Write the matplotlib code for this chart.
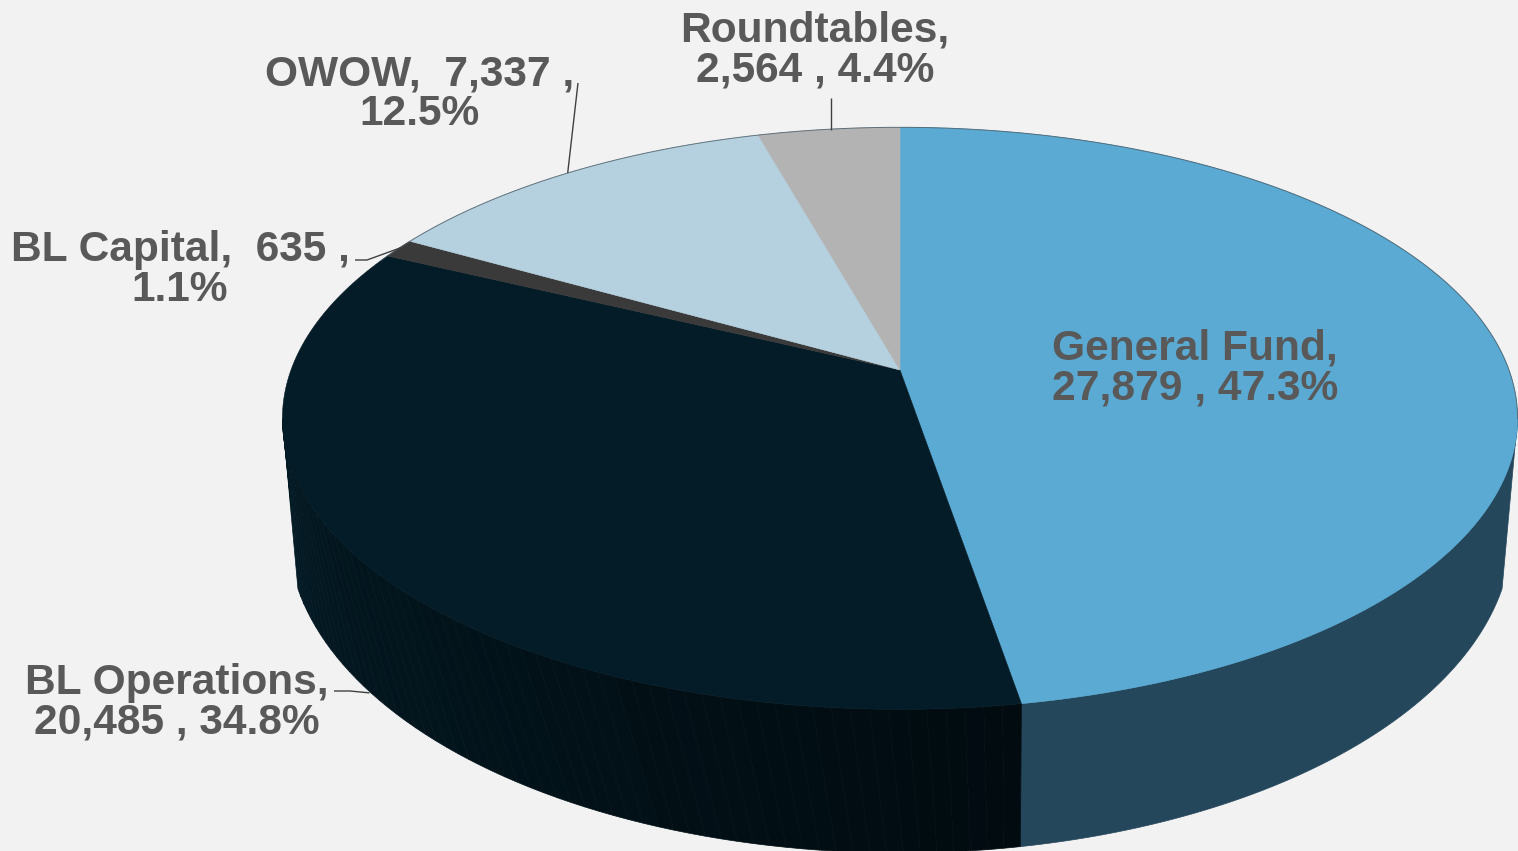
import numpy as np
import matplotlib
matplotlib.use('Agg')
import matplotlib.pyplot as plt
from matplotlib.colors import LinearSegmentedColormap
from matplotlib.patches import Polygon

names = ['General Fund', 'BL Operations', 'BL Capital', 'OWOW', 'Roundtables']
values = [27879, 20485, 635, 7337, 2564]
percents = [47.3, 34.8, 1.1, 12.5, 4.4]

top_colors = ['#5aaad3', '#041c27', '#3a3a3a', '#b5d0de', '#b3b3b3']
label_pos = [(1195, 368), (177, 703), (180, 270), (420, 94), (815, 50)]
BG = '#f2f2f2'
TEXT = '#595959'

# perspective of the pie disc, in pixels
CX, CY = 900, 370
PERSP = 0.166
TOP_R, TOP_H = 609, 283
BOT_R, BOT_H, BOT_Y = 603.5, 313, 477.6


def top_rim(t):
    u, v = np.sin(t), np.cos(t)
    d = 1 + PERSP * v
    return np.column_stack([CX + TOP_R * u / d, CY - TOP_H * v / d])


def bottom_rim(t):
    u, v = np.sin(t), np.cos(t)
    d = 1 + PERSP * v
    return np.column_stack([CX + BOT_R * u / d, BOT_Y - BOT_H * v / d])


def label_text(i):
    val = f'{values[i]:,}'
    pct = f'{percents[i]:.1f}%'
    if names[i] in ('General Fund', 'BL Operations', 'Roundtables'):
        return f'{names[i]},\n{val} , {pct}'
    return f'{names[i]},  {val} ,\n{pct}'


fig = plt.figure(figsize=(15.18, 8.51), dpi=100, facecolor=BG)
ax = fig.add_axes([0, 0, 1, 1])
ax.set_xlim(0, 1518)
ax.set_ylim(851, 0)
ax.axis('off')

# slice angles, clockwise from the top
shares = np.array(values) / sum(values)
edges = np.concatenate([[0], np.cumsum(shares)]) * 2 * np.pi
seam = edges[1]

# side wall under General Fund
rim_top = np.radians(99.6)
rim_bot = np.radians(109.6)
t1 = np.linspace(rim_top, seam, 100)
t2 = np.linspace(seam, rim_bot, 100)
ax.add_patch(Polygon(np.vstack([top_rim(t1), bottom_rim(t2)]),
                     facecolor='#25475c', edgecolor='#25475c', lw=0.5))

# side wall under BL Operations, drawn in strips so it darkens toward the seam
wall_cmap = LinearSegmentedColormap.from_list('wall', ['#010b10', '#021219', '#031a24'])
strip_edges = np.linspace(seam, np.radians(250.4), 61)
top_edges = np.linspace(seam, np.radians(260.4), 61)
for k in range(60):
    t_b = np.linspace(strip_edges[k], strip_edges[k + 1], 5)
    t_t = np.linspace(top_edges[k], top_edges[k + 1], 5)
    pts = np.vstack([top_rim(t_t), bottom_rim(t_b[::-1])])
    col = wall_cmap(k / 59)
    ax.add_patch(Polygon(pts, facecolor=col, edgecolor=col, lw=0.5))

# top face
for i in range(len(values)):
    t = np.linspace(edges[i], edges[i + 1], 200)
    pts = np.vstack([[CX, CY], top_rim(t)])
    ax.add_patch(Polygon(pts, facecolor=top_colors[i], edgecolor=top_colors[i], lw=0.4))

# thin outline along the far rim
t = np.linspace(edges[2] - 0.02, edges[-1] + rim_top, 400)
rim = top_rim(t)
ax.plot(rim[:, 0], rim[:, 1], color='#4a5a64', lw=0.7, alpha=0.8)

# leader lines from the middle of each small slice
mids = (edges[:-1] + edges[1:]) / 2
ops = bottom_rim(mids[1:2])[0]
cap = top_rim(mids[2:3])[0]
owow = top_rim(mids[3:4])[0]
rt = top_rim(mids[4:5])[0]
line = dict(color='#404040', lw=1.0, solid_capstyle='butt')
ax.plot([334, 350, ops[0] + 5], [691, 691, ops[1] + 6], **line)
ax.plot([355, 367, cap[0] + 3], [260, 260, cap[1] - 1], **line)
ax.plot([578, owow[0]], [83, owow[1]], **line)
ax.plot([rt[0] + 2, rt[0] + 2], [98, rt[1] + 1], **line)

for i in range(len(values)):
    ax.text(label_pos[i][0], label_pos[i][1], label_text(i), ha='center', va='center',
            multialignment='center', family='Liberation Sans', fontweight='bold',
            fontsize=30.6, color=TEXT, linespacing=1.0)

fig.savefig('out.png', dpi=100, facecolor=BG)
plt.close()
